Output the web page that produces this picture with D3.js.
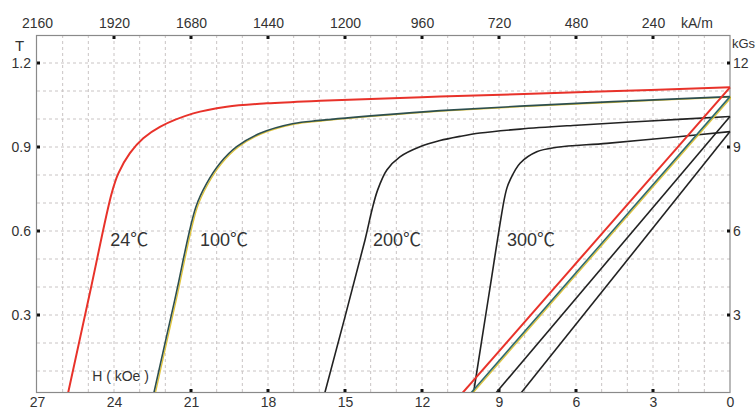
<!DOCTYPE html>
<html><head><meta charset="utf-8">
<script src="https://cdn.jsdelivr.net/npm/d3@7"></script>
<style>
body{margin:0;background:#fff}
text{font-family:"Liberation Sans",Arial,"Noto Sans CJK SC",sans-serif;fill:#333}
</style>
</head><body>
<svg id="c" width="756" height="411"></svg>
<script>
// ---- data ----
const bottomTicks = [27, 24, 21, 18, 15, 12, 9, 6, 3, 0];
const bottomTickMarks = [21, 18, 15, 12, 9, 6, 3];
const topTicks = [2160, 1920, 1680, 1440, 1200, 960, 720, 480, 240];
const leftTicks = [0.3, 0.6, 0.9, 1.2];
const rightTicks = [3, 6, 9, 12];
const tempLabels = ["24℃", "100℃", "200℃", "300℃"];

// intrinsic (J-H) curves: [H kOe, T]
const intrinsic24 = [[25.84,0],[24.93,0.383],[24.09,0.735],[23.83,0.806],[23.38,0.878],[22.86,0.931],[22.21,0.972],[20.91,1.020],[19.61,1.044],[18.05,1.056],[15.97,1.065],[11.3,1.080],[5.06,1.098],[0,1.113]];
const intrinsic100 = [[22.5,0],[21.63,0.355],[20.81,0.686],[20.39,0.770],[19.87,0.842],[19.22,0.901],[18.31,0.949],[17.01,0.984],[15.97,0.995],[13.63,1.014],[11.3,1.030],[8.18,1.046],[4.29,1.063],[0,1.080]];
const intrinsic200 = [[15.85,0],[14.22,0.568],[13.95,0.675],[13.73,0.746],[13.37,0.818],[12.86,0.865],[12.08,0.901],[11.3,0.923],[10.52,0.938],[9.74,0.950],[8.18,0.964],[6.12,0.977],[3.12,0.993],[0,1.009]];
const intrinsic300 = [[10.03,0],[9.41,0.3625],[8.80,0.711],[8.69,0.754],[8.57,0.782],[8.18,0.842],[7.53,0.883],[6.75,0.899],[4.80,0.913],[2.21,0.935],[0,0.955]];
// normal (B-H) lines
const normal24 = [[10.63,0],[0,1.113]];
const normal100 = [[10.3,0],[0,1.080]];
const normal200 = [[9.32,0],[0,1.009]];
const normal300 = [[8.33,0],[0,0.955]];

const yMin = 0.025, yMax = 1.3;

// ---- layout ----
const L = 37, R = 730, TOP = 35, BOT = 392;
const svg = d3.select("#c");
const x = d3.scaleLinear().domain([27, 0]).range([L, R]);
const xTop = d3.scaleLinear().domain([2160, 0]).range([L, R]);
const y = d3.scaleLinear().domain([yMin, yMax]).range([BOT, TOP]);
const yR = d3.scaleLinear().domain([yMin*10, yMax*10]).range([BOT, TOP]);

// grid
const g = svg.append("g");
g.selectAll("line.v").data(d3.range(1, 27)).join("line")
  .attr("x1", d => x(d)).attr("x2", d => x(d)).attr("y1", TOP).attr("y2", BOT)
  .attr("stroke", "#c9c4c4").attr("stroke-width", 1).attr("stroke-dasharray", "3,3");
g.selectAll("line.h").data(d3.range(1, 13).map(d => d/10)).join("line")
  .attr("x1", L).attr("x2", R).attr("y1", d => y(d)).attr("y2", d => y(d))
  .attr("stroke", "#c9c4c4").attr("stroke-width", 1).attr("stroke-dasharray", "3,3");

// frame
svg.append("rect").attr("x", L-0.5).attr("y", TOP+0.5).attr("width", R-L+0.5).attr("height", BOT-TOP)
  .attr("fill", "none").attr("stroke", "#8a8a8a").attr("stroke-width", 1.2);

// axes via d3 (no domain path, custom tick marks)
const axB = svg.append("g").attr("transform", `translate(0,${BOT})`)
  .call(d3.axisBottom(x).tickValues(bottomTicks).tickFormat(d3.format("d")).tickSize(0).tickPadding(5));
const axT = svg.append("g").attr("transform", `translate(0,${TOP})`)
  .call(d3.axisTop(xTop).tickValues(topTicks).tickFormat(d3.format("d")).tickSize(0).tickPadding(7));
const axL = svg.append("g").attr("transform", `translate(${L},0)`)
  .call(d3.axisLeft(y).tickValues(leftTicks).tickFormat(d3.format(".1f")).tickSize(0).tickPadding(6));
const axR = svg.append("g").attr("transform", `translate(${R},0)`)
  .call(d3.axisRight(yR).tickValues(rightTicks).tickFormat(d3.format("d")).tickSize(0).tickPadding(3));
[axB, axT, axL, axR].forEach(a => {
  a.select(".domain").remove();
  a.selectAll("text").attr("font-size", 14).attr("fill", "#333")
    .style("font-family", '"Liberation Sans", Arial, sans-serif');
});

// tick squares
const sq = 3;
svg.selectAll("rect.tb").data(bottomTickMarks).join("rect")
  .attr("x", d => x(d)-1.5).attr("y", BOT-sq).attr("width", sq).attr("height", sq).attr("fill", "#111");
svg.selectAll("rect.tt").data(topTicks.slice(1)).join("rect")
  .attr("x", d => xTop(d)-1.5).attr("y", TOP+1).attr("width", sq).attr("height", sq).attr("fill", "#111");
svg.selectAll("rect.tl").data(leftTicks).join("rect")
  .attr("x", L).attr("y", d => y(d)-1.5).attr("width", sq).attr("height", sq).attr("fill", "#111");
svg.selectAll("rect.tr").data(rightTicks).join("rect")
  .attr("x", R-sq).attr("y", d => yR(d)-1.5).attr("width", sq).attr("height", sq).attr("fill", "#111");

// unit labels
svg.append("text").attr("x", 681).attr("y", 28).attr("font-size", 14).text("kA/m");
svg.append("text").attr("x", 732).attr("y", 48).attr("font-size", 13).text("kGs");
svg.append("text").attr("x", 15).attr("y", 51).attr("font-size", 15).text("T");

// curves
svg.append("clipPath").attr("id", "clip").append("rect")
  .attr("x", L).attr("y", TOP).attr("width", R-L+1).attr("height", BOT-TOP);
const cg = svg.append("g").attr("clip-path", "url(#clip)");
const curve = d3.line().x(d => x(d[0])).y(d => y(d[1])).curve(d3.curveCatmullRom.alpha(0.5));
const straight = d3.line().x(d => x(d[0])).y(d => y(d[1]));

const series = [
  {data: intrinsic300, gen: curve, color: "#222", w: 1.6},
  {data: normal300, gen: straight, color: "#222", w: 1.6},
  {data: intrinsic200, gen: curve, color: "#222", w: 1.6},
  {data: normal200, gen: straight, color: "#222", w: 1.6},
  {data: intrinsic100, gen: curve, color: "#2d4f4f", w: 1.6, halo: true},
  {data: normal100, gen: straight, color: "#2f6b6b", w: 1.6, halo: true},
  {data: intrinsic24, gen: curve, color: "#e8322a", w: 2},
  {data: normal24, gen: straight, color: "#e8322a", w: 2},
];
series.forEach(s => {
  if (s.halo) {
    cg.append("path").attr("d", s.gen(s.data)).attr("fill", "none")
      .attr("stroke", "#e0c43a").attr("stroke-width", 1.3).attr("transform", "translate(1.4,0.6)");
  }
  cg.append("path").attr("d", s.gen(s.data)).attr("fill", "none")
    .attr("stroke", s.color).attr("stroke-width", s.w).attr("stroke-linejoin", "round");
});

// temperature labels (positioned in data coordinates)
const labelPos = [[24.15, 0.546], [20.65, 0.546], [13.91, 0.546], [8.69, 0.546]];
svg.selectAll("text.temp").data(tempLabels).join("text")
  .attr("x", (d, i) => x(labelPos[i][0])).attr("y", (d, i) => y(labelPos[i][1]))
  .attr("font-size", 18).attr("fill", "#222").text(d => d);

svg.append("text").attr("x", x(24.85)).attr("y", y(0.064)).attr("font-size", 14).attr("fill", "#333")
  .attr("xml:space", "preserve").text("H ( kOe )");
</script>
</body></html>
